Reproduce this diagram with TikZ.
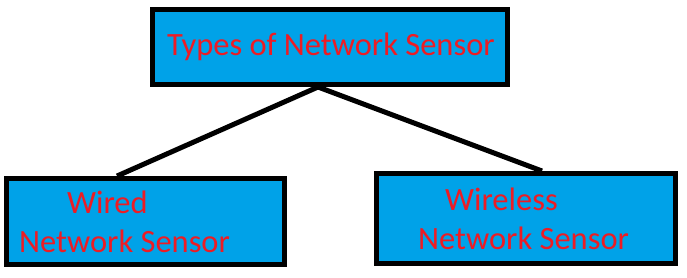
\documentclass[tikz,border=0pt]{standalone}
\usepackage{fontspec}
\setmainfont{Carlito}
\usetikzlibrary{calc}
\definecolor{NSFill}{HTML}{00A2E8}
\definecolor{NSText}{HTML}{ED1C24}
\definecolor{NSInk}{HTML}{000000}
\tikzset{
  sensorbox/.style={draw=NSInk,line width=5pt,fill=NSFill,inner sep=0pt},
  branch/.style={NSInk,line width=5pt},
  sensortext/.style={text=NSText,font=\fontsize{32.5}{39}\selectfont,inner sep=0pt,anchor=base west},
}
\begin{document}
\begin{tikzpicture}[x=1pt,y=-1pt]
    \useasboundingbox (0,0) rectangle (687,277);

    \node[sensorbox,minimum width=355pt,minimum height=75pt] (types) at (330,47) {};
    \node[sensortext] (typeslabel) at (167,55) {Types of Network Sensor};

    \node[sensorbox,minimum width=278pt,minimum height=86pt] (wired) at (145.5,221.5) {};
    \node[sensortext] (wiredtop) at (67,213) {Wired};
    \node[sensortext] (wiredbot) at (19,252) {Network Sensor};

    \node[sensorbox,minimum width=299pt,minimum height=90pt] (wireless) at (526,218.5) {};
    \node[sensortext] (wirelesstop) at (445,210) {Wireless};
    \node[sensortext] (wirelessbot) at (418,249) {Network Sensor};

    \draw[branch] ([xshift=-12pt]types.south) -- ([xshift=-28.5pt]wired.north);
    \draw[branch] ([xshift=-12pt]types.south) -- ([xshift=16pt]wireless.north);
  \end{tikzpicture}
\end{document}
